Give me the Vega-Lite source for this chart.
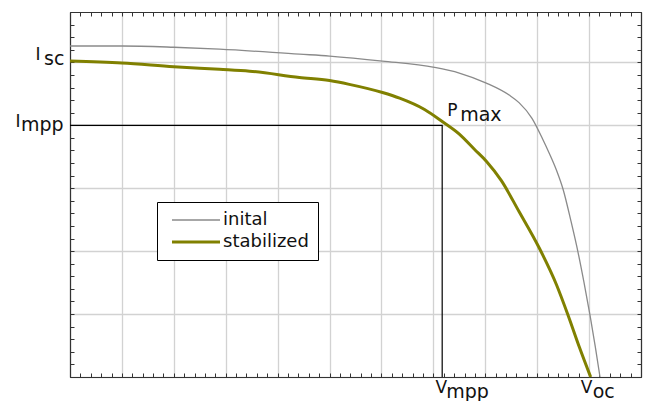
{
  "$schema": "https://vega.github.io/schema/vega-lite/v6.json",
  "width": 571,
  "height": 365,
  "autosize": "none",
  "padding": {"left": 70, "top": 12, "right": 6, "bottom": 24},
  "background": "white",
  "config": {
    "view": {"stroke": null},
    "axis": {
      "domainColor": "#333333",
      "domainWidth": 1.2,
      "tickColor": "#333333",
      "tickSize": -4,
      "tickWidth": 1,
      "labels": false,
      "gridColor": "#d2d2d2",
      "gridWidth": 1.3
    },
    "legend": {
      "strokeColor": "#000000",
      "fillColor": "white",
      "padding": 9,
      "symbolType": "M-4,0H4",
      "symbolSize": 144,
      "symbolOffset": 21,
      "labelOffset": 18,
      "labelFont": "DejaVu Sans",
      "labelFontSize": 18,
      "labelColor": "#111111",
      "rowPadding": 4
    },
    "text": {"font": "DejaVu Sans", "fontSize": 17, "color": "#111111", "baseline": "alphabetic"}
  },
  "datasets": {
    "curves": [
      {"series": "inital", "v": 0, "i": 5.26},
      {"series": "inital", "v": 1, "i": 5.26},
      {"series": "inital", "v": 2, "i": 5.24},
      {"series": "inital", "v": 2.88, "i": 5.21},
      {"series": "inital", "v": 4.42, "i": 5.13},
      {"series": "inital", "v": 5.0, "i": 5.1},
      {"series": "inital", "v": 6.02, "i": 5.02},
      {"series": "inital", "v": 7.02, "i": 4.92},
      {"series": "inital", "v": 7.5, "i": 4.83},
      {"series": "inital", "v": 8.02, "i": 4.67},
      {"series": "inital", "v": 8.46, "i": 4.48},
      {"series": "inital", "v": 8.65, "i": 4.36},
      {"series": "inital", "v": 8.9, "i": 4.11},
      {"series": "inital", "v": 9.1, "i": 3.79},
      {"series": "inital", "v": 9.23, "i": 3.56},
      {"series": "inital", "v": 9.37, "i": 3.29},
      {"series": "inital", "v": 9.5, "i": 2.98},
      {"series": "inital", "v": 9.65, "i": 2.48},
      {"series": "inital", "v": 9.79, "i": 1.97},
      {"series": "inital", "v": 9.9, "i": 1.51},
      {"series": "inital", "v": 10.02, "i": 0.97},
      {"series": "inital", "v": 10.12, "i": 0.48},
      {"series": "inital", "v": 10.21, "i": 0},
      {"series": "stabilized", "v": 0, "i": 5.02},
      {"series": "stabilized", "v": 1, "i": 4.99},
      {"series": "stabilized", "v": 2, "i": 4.93},
      {"series": "stabilized", "v": 2.88, "i": 4.89},
      {"series": "stabilized", "v": 3.46, "i": 4.86},
      {"series": "stabilized", "v": 4.42, "i": 4.76},
      {"series": "stabilized", "v": 5.0, "i": 4.71},
      {"series": "stabilized", "v": 5.38, "i": 4.65},
      {"series": "stabilized", "v": 6.02, "i": 4.52},
      {"series": "stabilized", "v": 6.35, "i": 4.43},
      {"series": "stabilized", "v": 6.83, "i": 4.25},
      {"series": "stabilized", "v": 7.17, "i": 4.06},
      {"series": "stabilized", "v": 7.5, "i": 3.86},
      {"series": "stabilized", "v": 7.79, "i": 3.62},
      {"series": "stabilized", "v": 8.02, "i": 3.43},
      {"series": "stabilized", "v": 8.31, "i": 3.12},
      {"series": "stabilized", "v": 8.65, "i": 2.63},
      {"series": "stabilized", "v": 9.04, "i": 2.05},
      {"series": "stabilized", "v": 9.37, "i": 1.47},
      {"series": "stabilized", "v": 9.6, "i": 0.97},
      {"series": "stabilized", "v": 9.81, "i": 0.48},
      {"series": "stabilized", "v": 10.03, "i": 0}
    ],
    "mpp": [
      {"step": 1, "v": 0, "i": 4},
      {"step": 2, "v": 7.17, "i": 4},
      {"step": 3, "v": 7.17, "i": 0}
    ],
    "labels": [
      {"name": "Isc", "v": 0, "i": 5, "main": "I", "sub": "sc"},
      {"name": "Impp", "v": 0, "i": 4, "main": "I", "sub": "mpp"},
      {"name": "Vmpp", "v": 7.17, "i": 0, "main": "V", "sub": "mpp"},
      {"name": "Voc", "v": 10.03, "i": 0, "main": "V", "sub": "oc"},
      {"name": "Pmax", "v": 7.17, "i": 4, "main": "P", "sub": "max"}
    ]
  },
  "resolve": {"axis": {"x": "independent", "y": "independent"}},
  "layer": [
    {
      "data": {"name": "curves"},
      "mark": {"type": "line", "interpolate": "monotone"},
      "encoding": {
        "x": {
          "field": "v", "type": "quantitative",
          "scale": {"domain": [0, 11], "nice": false, "zero": false},
          "axis": {
            "orient": "bottom", "title": null, "grid": true,
            "values": [0,0.2,0.4,0.6,0.8,1,1.2,1.4,1.6,1.8,2,2.2,2.4,2.6,2.8,3,3.2,3.4,3.6,3.8,4,4.2,4.4,4.6,4.8,5,5.2,5.4,5.6,5.8,6,6.2,6.4,6.6,6.8,7,7.2,7.4,7.6,7.8,8,8.2,8.4,8.6,8.8,9,9.2,9.4,9.6,9.8,10,10.2,10.4,10.6,10.8,11],
            "gridOpacity": {"condition": {"test": "datum.value % 1 === 0", "value": 1}, "value": 0}
          }
        },
        "y": {
          "field": "i", "type": "quantitative",
          "scale": {"domain": [0, 5.8], "nice": false, "zero": false},
          "axis": {
            "orient": "left", "title": null, "grid": true,
            "values": [0,0.2,0.4,0.6,0.8,1,1.2,1.4,1.6,1.8,2,2.2,2.4,2.6,2.8,3,3.2,3.4,3.6,3.8,4,4.2,4.4,4.6,4.8,5,5.2,5.4,5.6,5.8],
            "gridOpacity": {"condition": {"test": "datum.value % 1 === 0", "value": 1}, "value": 0}
          }
        },
        "color": {
          "field": "series", "type": "nominal",
          "scale": {"domain": ["inital", "stabilized"], "range": ["#8a8a8a", "#808000"]},
          "legend": {"title": null, "orient": "none", "legendX": 87, "legendY": 190}
        },
        "strokeWidth": {
          "field": "series", "type": "nominal",
          "scale": {"type": "point", "domain": ["inital", "stabilized"], "range": [1.3, 3], "padding": 0},
          "legend": {"title": null, "orient": "none", "legendX": 87, "legendY": 190}
        }
      }
    },
    {
      "data": {"name": "mpp"},
      "mark": {"type": "line", "color": "#000000", "strokeWidth": 1.2},
      "encoding": {
        "x": {
          "field": "v", "type": "quantitative",
          "scale": {"domain": [0, 11], "nice": false, "zero": false},
          "axis": {
            "orient": "top", "title": null, "grid": false,
            "values": [0,0.2,0.4,0.6,0.8,1,1.2,1.4,1.6,1.8,2,2.2,2.4,2.6,2.8,3,3.2,3.4,3.6,3.8,4,4.2,4.4,4.6,4.8,5,5.2,5.4,5.6,5.8,6,6.2,6.4,6.6,6.8,7,7.2,7.4,7.6,7.8,8,8.2,8.4,8.6,8.8,9,9.2,9.4,9.6,9.8,10,10.2,10.4,10.6,10.8,11]
          }
        },
        "y": {
          "field": "i", "type": "quantitative",
          "scale": {"domain": [0, 5.8], "nice": false, "zero": false},
          "axis": {
            "orient": "right", "title": null, "grid": false,
            "values": [0,0.2,0.4,0.6,0.8,1,1.2,1.4,1.6,1.8,2,2.2,2.4,2.6,2.8,3,3.2,3.4,3.6,3.8,4,4.2,4.4,4.6,4.8,5,5.2,5.4,5.6,5.8]
          }
        },
        "order": {"field": "step", "type": "ordinal"}
      }
    },
    {
      "data": {"name": "labels"},
      "transform": [{"filter": "datum.name === 'Isc'"}],
      "encoding": {
        "x": {"field": "v", "type": "quantitative", "axis": null, "scale": {"domain": [0, 11], "nice": false, "zero": false}},
        "y": {"field": "i", "type": "quantitative", "axis": null, "scale": {"domain": [0, 5.8], "nice": false, "zero": false}}
      },
      "layer": [
        {"mark": {"type": "text", "align": "left", "dx": -34.5, "dy": -2}, "encoding": {"text": {"field": "main"}}},
        {"mark": {"type": "text", "align": "left", "dx": -26, "dy": 3, "fontSize": 19}, "encoding": {"text": {"field": "sub"}}}
      ]
    },
    {
      "data": {"name": "labels"},
      "transform": [{"filter": "datum.name === 'Impp'"}],
      "encoding": {
        "x": {"field": "v", "type": "quantitative", "axis": null, "scale": {"domain": [0, 11], "nice": false, "zero": false}},
        "y": {"field": "i", "type": "quantitative", "axis": null, "scale": {"domain": [0, 5.8], "nice": false, "zero": false}}
      },
      "layer": [
        {"mark": {"type": "text", "align": "left", "dx": -54.5, "dy": 1.5}, "encoding": {"text": {"field": "main"}}},
        {"mark": {"type": "text", "align": "left", "dx": -49, "dy": 6, "fontSize": 19}, "encoding": {"text": {"field": "sub"}}}
      ]
    },
    {
      "data": {"name": "labels"},
      "transform": [{"filter": "datum.name === 'Vmpp'"}],
      "encoding": {
        "x": {"field": "v", "type": "quantitative", "axis": null, "scale": {"domain": [0, 11], "nice": false, "zero": false}},
        "y": {"field": "i", "type": "quantitative", "axis": null, "scale": {"domain": [0, 5.8], "nice": false, "zero": false}}
      },
      "layer": [
        {"mark": {"type": "text", "align": "center", "dx": -1, "dy": 16}, "encoding": {"text": {"field": "main"}}},
        {"mark": {"type": "text", "align": "left", "dx": 4, "dy": 21, "fontSize": 19}, "encoding": {"text": {"field": "sub"}}}
      ]
    },
    {
      "data": {"name": "labels"},
      "transform": [{"filter": "datum.name === 'Voc'"}],
      "encoding": {
        "x": {"field": "v", "type": "quantitative", "axis": null, "scale": {"domain": [0, 11], "nice": false, "zero": false}},
        "y": {"field": "i", "type": "quantitative", "axis": null, "scale": {"domain": [0, 5.8], "nice": false, "zero": false}}
      },
      "layer": [
        {"mark": {"type": "text", "align": "center", "dx": -4, "dy": 16}, "encoding": {"text": {"field": "main"}}},
        {"mark": {"type": "text", "align": "left", "dx": 2, "dy": 21, "fontSize": 19}, "encoding": {"text": {"field": "sub"}}}
      ]
    },
    {
      "data": {"name": "labels"},
      "transform": [{"filter": "datum.name === 'Pmax'"}],
      "encoding": {
        "x": {"field": "v", "type": "quantitative", "axis": null, "scale": {"domain": [0, 11], "nice": false, "zero": false}},
        "y": {"field": "i", "type": "quantitative", "axis": null, "scale": {"domain": [0, 5.8], "nice": false, "zero": false}}
      },
      "layer": [
        {"mark": {"type": "text", "align": "left", "dx": 5, "dy": -9}, "encoding": {"text": {"field": "main"}}},
        {"mark": {"type": "text", "align": "left", "dx": 18, "dy": -4, "fontSize": 19}, "encoding": {"text": {"field": "sub"}}}
      ]
    }
  ]
}
